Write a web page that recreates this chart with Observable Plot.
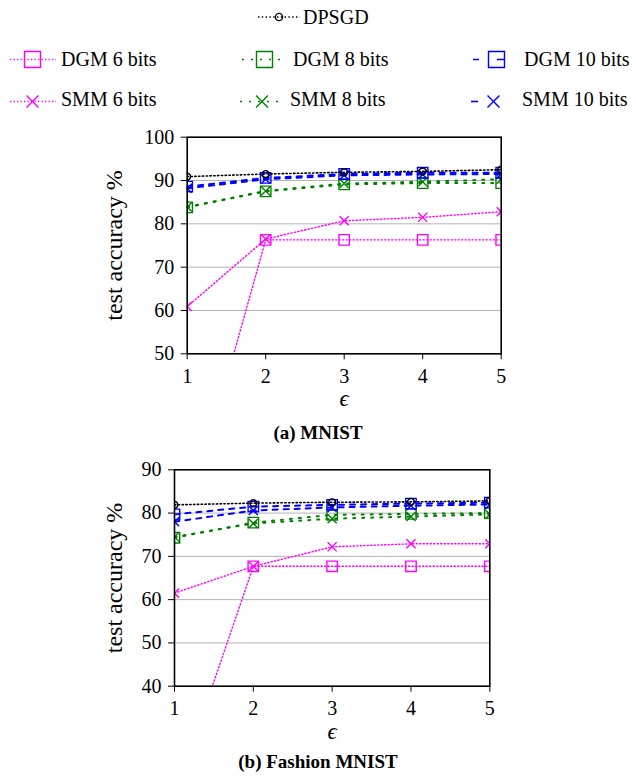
<!DOCTYPE html>
<html><head><meta charset="utf-8">
<script src="https://cdn.jsdelivr.net/npm/d3@7"></script>
<script src="https://cdn.jsdelivr.net/npm/@observablehq/plot@0.6"></script>
<style>
body{margin:0;background:#fff;}
#root{position:relative;width:636px;height:784px;font-family:"Liberation Serif","DejaVu Serif","Times New Roman",Times,serif;overflow:hidden;}
.abs{position:absolute;left:0;}
.title{position:absolute;left:0;width:636px;text-align:center;font-weight:bold;font-size:19px;line-height:20px;color:#000;}
</style></head><body><div id="root"></div>
<script>
// ---------- data ----------
const epsilons = [1, 2, 3, 4, 5];
const seriesNames = ["DGM 6 bits", "SMM 6 bits", "DGM 8 bits", "SMM 8 bits", "DGM 10 bits", "SMM 10 bits", "DPSGD"];

// (a) MNIST
const mnistDGM6  = [11.7, 76.3, 76.3, 76.3, 76.3];
const mnistSMM6  = [60.9, 76.5, 80.7, 81.5, 82.8];
const mnistDGM8  = [83.8, 87.5, 89.1, 89.4, 89.4];
const mnistSMM8  = [83.9, 87.6, 89.3, 89.7, 90.3];
const mnistDGM10 = [88.6, 90.6, 91.5, 91.8, 91.8];
const mnistSMM10 = [88.2, 90.3, 91.2, 91.4, 91.5];
const mnistDPSGD = [90.9, 91.5, 91.9, 92.1, 92.5];
const mnistYTicks = [50, 60, 70, 80, 90, 100];

// (b) Fashion MNIST
const fashionDGM6  = [14.4, 67.7, 67.7, 67.7, 67.7];
const fashionSMM6  = [61.5, 67.7, 72.2, 72.9, 72.9];
const fashionDGM8  = [74.3, 77.8, 79.6, 79.8, 80.0];
const fashionSMM8  = [74.5, 77.6, 78.7, 79.2, 79.7];
const fashionDGM10 = [79.7, 81.5, 81.9, 82.2, 82.4];
const fashionSMM10 = [78.0, 80.6, 81.3, 81.7, 82.0];
const fashionDPSGD = [81.9, 82.3, 82.5, 82.6, 82.8];
const fashionYTicks = [40, 50, 60, 70, 80, 90];

const xTicks = [1, 2, 3, 4, 5];
const titles = ["(a) MNIST", "(b) Fashion MNIST"];
const yLabel = "test accuracy %";
const xLabel = "ϵ";

// ---------- styles ----------
const FONT = "'Liberation Serif', 'DejaVu Serif', 'Times New Roman', Times, serif";
const STY = {
  "DGM 6 bits":  {color: "#ff00ff", dash: "1.3,2.2", width: 1.4, symbol: "square"},
  "SMM 6 bits":  {color: "#ff00ff", dash: "1.3,2.2", width: 1.4, symbol: "times"},
  "DGM 8 bits":  {color: "#008000", dash: "2,7", width: 2, symbol: "square"},
  "SMM 8 bits":  {color: "#008000", dash: "2,7", width: 2, symbol: "times"},
  "DGM 10 bits": {color: "#0000ff", dash: "5,6", width: 2, symbol: "square"},
  "SMM 10 bits": {color: "#0000ff", dash: "5,6", width: 2, symbol: "times"},
  "DPSGD":       {color: "#000000", dash: "1.4,2.4", width: 1.6, symbol: "circle"}
};
const symR = {square: 5.9, times: 4.2, circle: 3.4};

function buildRows(arrs) {
  const rows = [];
  seriesNames.forEach((name, i) => {
    arrs[i].forEach((v, j) => rows.push({series: name, eps: epsilons[j], acc: v}));
  });
  return rows;
}

const root = document.getElementById("root");

function chart(arrs, yTicks, opts) {
  const rows = buildRows(arrs);
  const marks = [
    Plot.gridY(yTicks.slice(1, -1), {stroke: "#b3b3b3", strokeOpacity: 1, strokeWidth: 1}),
  ];
  for (const name of seriesNames) {
    const s = STY[name];
    const d = rows.filter(r => r.series === name);
    marks.push(Plot.line(d, {x: "eps", y: "acc", stroke: s.color, strokeWidth: s.width,
      strokeDasharray: s.dash, clip: "frame"}));
    marks.push(Plot.dot(d, {x: "eps", y: "acc", symbol: () => s.symbol, r: symR[s.symbol],
      stroke: s.color, fill: "none", strokeWidth: 1.4, clip: "frame"}));
  }
  marks.push(Plot.frame({stroke: "#000", strokeWidth: 1.6}));
  marks.push(Plot.axisY(yTicks, {tickSize: 6, tickPadding: 7, label: null, fontSize: 20, stroke: "#000"}));
  marks.push(Plot.axisX(xTicks, {tickSize: 6, tickPadding: 9, label: null, fontSize: 20, stroke: "#000", tickFormat: d => String(d)}));
  marks.push(Plot.text([yLabel], {frameAnchor: "left", textAnchor: "middle", lineAnchor: "middle", rotate: -90, dx: opts.labelDx, fontSize: 24, fill: "#000"}));
  marks.push(Plot.text([xLabel], {frameAnchor: "bottom", textAnchor: "middle", lineAnchor: "middle", dy: 45, fontSize: 23, fontStyle: "italic", fill: "#000"}));
  const svg = Plot.plot({
    width: 636, height: opts.height,
    marginLeft: opts.ml, marginRight: opts.mr, marginTop: opts.mt, marginBottom: opts.mb,
    style: {fontFamily: FONT, fontSize: "20px", background: "transparent", color: "#000", overflow: "visible"},
    x: {domain: [1, 5]},
    y: {domain: [yTicks[0], yTicks[yTicks.length - 1]]},
    symbol: {type: "identity"},
    marks
  });
  svg.classList.add("abs");
  svg.style.top = opts.top + "px";
  root.appendChild(svg);
}

// ---------- legend ----------
function legend() {
  const svg = d3.create("svg").attr("width", 636).attr("height", 120).attr("class", "abs").style("top", "0px");
  const items = [
    {name: "DPSGD", y: 17, base: 24, x0: 258, x1: 300, mx: 279, tx: 303},
    {name: "DGM 6 bits", y: 59.5, base: 66, x0: 10, x1: 56, mx: 32.5, tx: 61},
    {name: "DGM 8 bits", y: 59.5, base: 66, x0: 242, x1: 282, mx: 264.5, tx: 293},
    {name: "DGM 10 bits", y: 59.5, base: 66, x0: 473, x1: 505, mx: 496.5, tx: 524, dash: "6,18,8,20"},
    {name: "SMM 6 bits", y: 101.5, base: 105.5, x0: 10, x1: 56, mx: 32.5, tx: 61},
    {name: "SMM 8 bits", y: 101.5, base: 105.5, x0: 240, x1: 280, mx: 262, tx: 290},
    {name: "SMM 10 bits", y: 101.5, base: 105.5, x0: 471, x1: 478, mx: 493.5, tx: 522, dash: "7,30"}
  ];
  const symMap = {square: d3.symbolSquare, times: d3.symbolTimes, circle: d3.symbolCircle};
  const legSize = {square: 16 * 16, times: Math.PI * 5.5 * 5.5, circle: Math.PI * 3.6 * 3.6};
  for (const it of items) {
    const s = STY[it.name];
    svg.append("line").attr("x1", it.x0).attr("x2", it.x1).attr("y1", it.y).attr("y2", it.y)
      .attr("stroke", s.color).attr("stroke-width", Math.min(s.width, 1.6)).attr("stroke-dasharray", it.dash || s.dash);
    svg.append("path").attr("d", d3.symbol(symMap[s.symbol], legSize[s.symbol])())
      .attr("transform", `translate(${it.mx},${it.y})`).attr("fill", "none")
      .attr("stroke", s.color).attr("stroke-width", 1.4);
    svg.append("text").attr("x", it.tx).attr("y", it.base).text(it.name)
      .attr("font-family", FONT).attr("font-size", 20).attr("fill", "#000");
  }
  root.appendChild(svg.node());
}

legend();
chart([mnistDGM6, mnistSMM6, mnistDGM8, mnistSMM8, mnistDGM10, mnistSMM10, mnistDPSGD], mnistYTicks,
  {top: 120, height: 290, ml: 186.7, mr: 135.3, mt: 16.7, mb: 56.7, labelDx: -72.5});
chart([fashionDGM6, fashionSMM6, fashionDGM8, fashionSMM8, fashionDGM10, fashionSMM10, fashionDPSGD], fashionYTicks,
  {top: 450, height: 290, ml: 174, mr: 146.7, mt: 19.3, mb: 54.3, labelDx: -60});

titles.forEach((t, i) => {
  const d = document.createElement("div");
  d.className = "title";
  d.style.top = (i === 0 ? 423 : 752) + "px";
  d.textContent = t;
  root.appendChild(d);
});
</script>
</body></html>
